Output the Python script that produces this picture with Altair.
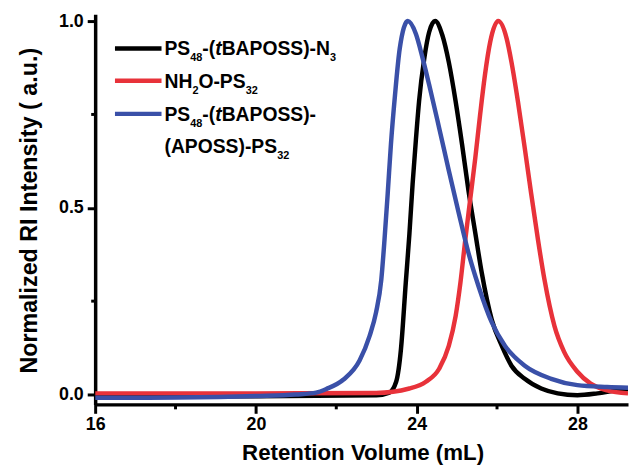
import altair as alt
import pandas as pd

FONT = "Liberation Sans"

# ---- data ----
black_x = [16.0, 20.0, 23.0, 23.32, 23.49, 23.61, 23.73, 23.82, 23.90, 23.98, 24.06, 24.19, 24.31, 24.46,
           24.64, 24.80, 24.97, 25.13, 25.29, 25.46, 25.62, 25.87, 26.12, 26.36, 26.69, 27.10, 27.51,
           28.0, 28.5, 28.99, 29.26]
black_y = [-0.006, -0.005, -0.002, 0.005, 0.034, 0.122, 0.30, 0.43, 0.565, 0.68, 0.785, 0.90, 0.97, 1.0,
           0.962, 0.89, 0.785, 0.67, 0.546, 0.432, 0.326, 0.20, 0.13, 0.077, 0.042, 0.016, 0.003,
           -0.002, 0.003, 0.011, 0.014]

red_x = [16.0, 20.0, 22.99, 23.82, 24.23, 24.56, 24.80, 24.97, 25.09, 25.21, 25.33, 25.46, 25.58, 25.70,
         25.83, 26.03, 26.24, 26.36, 26.52, 26.69, 26.85, 27.02, 27.18, 27.43, 27.67, 28.0, 28.33,
         28.74, 29.26]
red_y = [0.003, 0.003, 0.004, 0.016, 0.034, 0.069, 0.13, 0.21, 0.30, 0.414, 0.52, 0.634, 0.75, 0.856,
         0.944, 1.0, 0.953, 0.89, 0.785, 0.66, 0.538, 0.414, 0.308, 0.183, 0.114, 0.061, 0.029,
         0.011, 0.003]

blue_x = [16.0, 18.0, 20.0, 21.0, 21.5, 21.76, 22.18, 22.58, 22.83, 22.99, 23.12, 23.20, 23.28, 23.36,
          23.46, 23.58, 23.78, 23.98, 24.15, 24.31, 24.56, 24.80, 25.05, 25.29, 25.54, 25.87, 26.20,
          26.69, 27.35, 28.0, 28.74, 29.26]
blue_y = [-0.009, -0.008, -0.004, 0.0, 0.005, 0.015, 0.04, 0.091, 0.157, 0.22, 0.307, 0.414, 0.538, 0.67,
          0.80, 0.927, 1.0, 0.966, 0.90, 0.83, 0.714, 0.60, 0.485, 0.379, 0.29, 0.193, 0.13,
          0.077, 0.042, 0.025, 0.02, 0.018]

series_names = ["PS48-(tBAPOSS)-N3", "NH2O-PS32", "PS48-(tBAPOSS)-(APOSS)-PS32"]
series_colors = ["#000000", "#E8323A", "#3A50A8"]

x_major = [16, 20, 24, 28]
x_minor = [18, 22, 26]
y_major = [0.0, 0.5, 1.0]
y_minor = [0.25, 0.75]

# legend text pieces: (text, kind) kind: n normal, s subscript, i italic
legend_rows = [
    [("PS", "n"), ("48", "s"), ("-(", "n"), ("t", "i"), ("BAPOSS)-N", "n"), ("3", "s")],
    [("NH", "n"), ("2", "s"), ("O-PS", "n"), ("32", "s")],
    [("PS", "n"), ("48", "s"), ("-(", "n"), ("t", "i"), ("BAPOSS)-", "n")],
    [("(APOSS)-PS", "n"), ("32", "s")],
]

# ---- layout ----
W, H = 538, 394
XDOM = [16, 29.26]
YDOM = [-0.0265, 1.0186]

frames = []
for name, xs, ys in zip(series_names, [black_x, red_x, blue_x], [black_y, red_y, blue_y]):
    frames.append(pd.DataFrame({"vol": xs, "intensity": ys, "series": name}))

xscale = alt.Scale(domain=XDOM, nice=False, zero=False)
yscale = alt.Scale(domain=YDOM, nice=False, zero=False)

common_axis = dict(grid=False, domainColor="black", domainWidth=3.5, tickColor="black", tickWidth=3,
                   labelFont=FONT, labelFontWeight="bold", labelColor="black", labelOverlap=False,
                   labelFlush=False,
                   titleFont=FONT, titleFontWeight="bold", titleColor="black")

xaxis = alt.Axis(values=x_major, format="d", title="Retention Volume (mL)", tickSize=9,
                 labelFontSize=18, labelPadding=2, titleFontSize=22.5, titleX=270, titleY=56,
                 titleAlign="center", titleBaseline="alphabetic", **common_axis)
yaxis = alt.Axis(values=y_major, format=".1f", title="Normalized RI Intensity ( a.u.)", tickSize=8,
                 labelFontSize=18, labelPadding=4, titleFontSize=23.5, titleAngle=270, titleX=-59,
                 titleY=198, titleAlign="center", titleBaseline="alphabetic", **common_axis)

layers = []
for df, col in zip(frames, series_colors):
    layers.append(
        alt.Chart(df).mark_line(color=col, strokeWidth=4.5, interpolate="monotone", clip=True).encode(
            x=alt.X("vol:Q", scale=xscale, axis=xaxis),
            y=alt.Y("intensity:Q", scale=yscale, axis=yaxis),
        )
    )

# minor ticks
layers.append(
    alt.Chart(pd.DataFrame({"vol": x_minor})).mark_rule(color="black", strokeWidth=3, clip=False).encode(
        x=alt.X("vol:Q", scale=xscale, axis=xaxis), y=alt.value(H), y2=alt.value(H + 5)
    )
)
layers.append(
    alt.Chart(pd.DataFrame({"intensity": y_minor})).mark_rule(color="black", strokeWidth=3, clip=False).encode(
        y=alt.Y("intensity:Q", scale=yscale, axis=yaxis), x=alt.value(0), x2=alt.value(-4)
    )
)

# legend
adv = {'P': 667, 'S': 667, '(': 333, ')': 333, 't': 333, 'B': 722, 'A': 722, 'O': 778, '-': 333,
       'N': 722, 'H': 722, '2': 556, '3': 556, '4': 556, '8': 556, ' ': 278}
MAIN, SUB = 19.5, 11
row_base = [41.5, 74.5, 107.5, 140.5]
line_y = [34.7, 67.3, 100.7]
for ly, col, name in zip(line_y, series_colors, series_names):
    layers.append(
        alt.Chart(pd.DataFrame({"s": [name]})).mark_rule(color=col, strokeWidth=4.5).encode(
            x=alt.value(20), x2=alt.value(67), y=alt.value(ly)
        )
    )
for row, yb in zip(legend_rows, row_base):
    xpos = 70.0
    for txt, kind in row:
        size = SUB if kind == "s" else MAIN
        dy = 6 if kind == "s" else 0
        style = "italic" if kind == "i" else "normal"
        layers.append(
            alt.Chart(pd.DataFrame({"t": [txt]})).mark_text(
                align="left", baseline="alphabetic", font=FONT, fontWeight="bold",
                fontSize=size, fontStyle=style, color="black"
            ).encode(x=alt.value(xpos), y=alt.value(yb + dy), text="t:N")
        )
        xpos += sum(adv.get(c, 600) for c in txt) / 1000 * size

chart = alt.layer(*layers).properties(
    width=W, height=H,
    autosize=alt.AutoSizeParams(type="none"),
    padding={"left": 88, "top": 4, "right": 2, "bottom": 59},
).configure_view(stroke=None)

chart.save("out.html", embed_options={"renderer": "svg", "actions": False})
